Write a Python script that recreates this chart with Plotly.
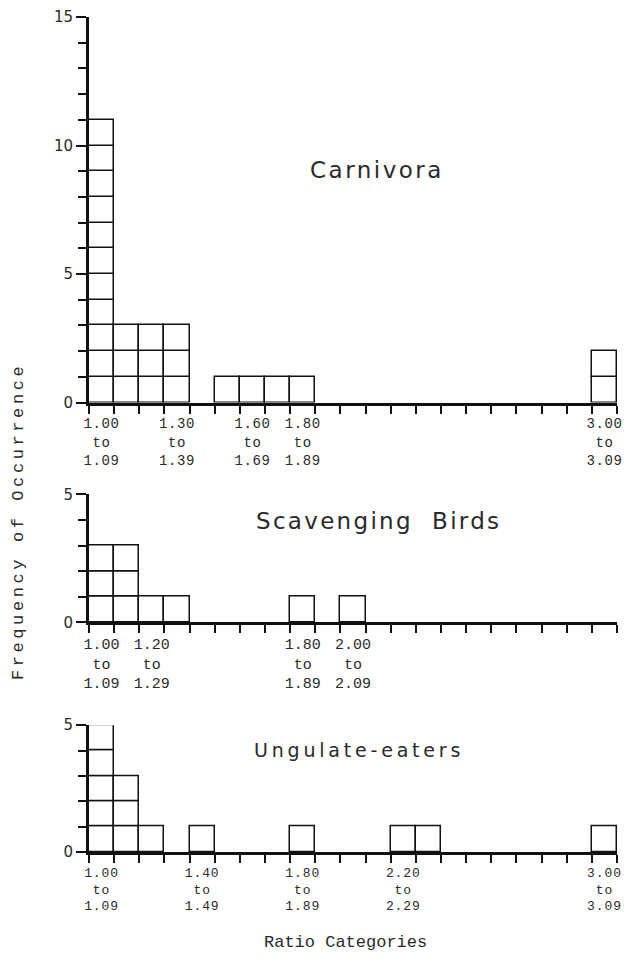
import plotly.graph_objects as go

# Ratio bins: 1.00-1.09, 1.10-1.19, ... 3.00-3.09 (21 bins)
bin_starts = [round(1.00 + 0.10 * i, 2) for i in range(21)]

carnivora = [11, 3, 3, 3, 0, 1, 1, 1, 1, 0, 0, 0, 0, 0, 0, 0, 0, 0, 0, 0, 2]
scavenging_birds = [3, 3, 1, 1, 0, 0, 0, 0, 1, 0, 1, 0, 0, 0, 0, 0, 0, 0, 0, 0, 0]
ungulate_eaters = [5, 3, 1, 0, 1, 0, 0, 0, 1, 0, 0, 0, 1, 1, 0, 0, 0, 0, 0, 0, 1]

carnivora_labels = [1.00, 1.30, 1.60, 1.80, 3.00]
birds_labels = [1.00, 1.20, 1.80, 2.00]
ungulate_labels = [1.00, 1.40, 1.80, 2.20, 3.00]

panel_titles = ["Carnivora", "Scavenging  Birds", "Ungulate-eaters"]
y_max = [15, 5, 5]
y_labels = [[0, 5, 10, 15], [0, 5], [0, 5]]

panels = [carnivora, scavenging_birds, ungulate_eaters]
label_sets = [carnivora_labels, birds_labels, ungulate_labels]
domains = [[0.5383, 1.0], [0.2751, 0.4282], [0.0, 0.1519]]
# (font size, letter spacing) of the range labels in each panel
label_style = [(14, 0.6), (15, 0.0), (13, 0.9)]

INK = "#111111"
TEXT = "#2a2a2a"
MONO = "Liberation Mono, DejaVu Sans Mono, monospace"


def spaced(text, px):
    if not px:
        return text
    return f'<span style="letter-spacing:{px}px">{text}</span>'


fig = go.Figure()


def unit_boxes(counts):
    """Expand bin counts into one unit square per occurrence."""
    xs, bases = [], []
    for i, c in enumerate(counts):
        for k in range(c):
            xs.append(i)
            bases.append(k)
    return xs, bases


for p, counts in enumerate(panels):
    xs, bases = unit_boxes(counts)
    suffix = "" if p == 0 else str(p + 1)
    fig.add_trace(go.Bar(
        x=xs, y=[1] * len(xs), base=bases, width=1.0,
        marker=dict(color="white", line=dict(color=INK, width=1.5)),
        xaxis="x" + suffix, yaxis="y" + suffix, showlegend=False,
        hoverinfo="skip",
    ))

    fs, ls = label_style[p]
    labels = label_sets[p]
    tickvals = [bin_starts.index(v) for v in labels]
    ticktext = ["<br>".join(spaced(s, ls) for s in
                            (f"{v:.2f}", "to", f"{v + 0.09:.2f}"))
                for v in labels]

    xaxis = dict(
        domain=[0, 1], range=[-0.5, 20.5], anchor="y" + suffix,
        showline=True, linecolor=INK, linewidth=3,
        tickvals=tickvals, ticktext=ticktext, ticks="",
        ticklabelstandoff=6,
        tickfont=dict(family=MONO, size=fs, color=TEXT),
        minor=dict(tick0=-0.5, dtick=1, ticks="outside", ticklen=8,
                   tickwidth=2, tickcolor=INK, showgrid=False),
        showgrid=False, zeroline=False, fixedrange=True,
    )
    yaxis = dict(
        domain=domains[p], range=[0, y_max[p]], anchor="x" + suffix,
        showline=True, linecolor=INK, linewidth=3,
        tickvals=y_labels[p], ticks="outside", ticklen=10, tickwidth=2,
        tickcolor=INK,
        tickfont=dict(family="DejaVu Sans, sans-serif", size=15, color=TEXT),
        minor=dict(dtick=1, ticks="outside", ticklen=8, tickwidth=2,
                   tickcolor=INK, showgrid=False),
        showgrid=False, zeroline=False, fixedrange=True,
    )
    fig.update_layout(**{"xaxis" + suffix: xaxis, "yaxis" + suffix: yaxis})

# panel titles: (x, y, size, letter spacing)
title_style = [(0.546, 0.817, 23, 2.5), (0.548, 0.396, 23, 2.3),
               (0.512, 0.122, 19, 3.8)]
for (tx, ty, fs, ls), t in zip(title_style, panel_titles):
    fig.add_annotation(
        x=tx, y=ty, xref="paper", yref="paper", text=spaced(t, ls),
        showarrow=False, xanchor="center", yanchor="middle",
        font=dict(family="DejaVu Sans, sans-serif", size=fs, color=TEXT),
    )

fig.add_annotation(
    x=-0.133, y=0.396, xref="paper", yref="paper",
    text=spaced("Frequency of Occurrence", 3.6), textangle=-90,
    showarrow=False, xanchor="center", yanchor="middle",
    font=dict(family=MONO, size=17, color=TEXT),
)
fig.add_annotation(
    x=0.486, y=-0.108, xref="paper", yref="paper",
    text="Ratio Categories", showarrow=False,
    xanchor="center", yanchor="middle",
    font=dict(family=MONO, size=17, color=TEXT),
)

fig.update_layout(
    width=630, height=957,
    margin=dict(l=89, r=8, t=16, b=105),
    paper_bgcolor="white", plot_bgcolor="white",
    barmode="overlay", bargap=0,
)

fig.write_html("out.html")
